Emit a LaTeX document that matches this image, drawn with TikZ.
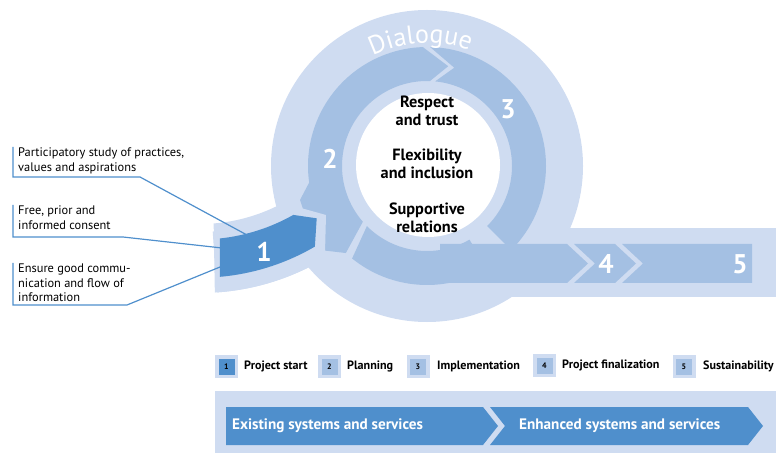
\documentclass[tikz,border=0pt]{standalone}
\usepackage{fontspec}
\setmainfont{PT Sans}
\usetikzlibrary{decorations.text}
\definecolor{lightb}{RGB}{207,220,241}
\definecolor{medb}{RGB}{164,192,227}
\definecolor{darkb}{RGB}{79,143,204}
\begin{document}
\begin{tikzpicture}[x=1pt,y=-1pt,
  lbl/.style={font=\fontsize{12.4}{14.8}\selectfont, anchor=north west, align=left, inner sep=0pt},
  ctr/.style={font=\bfseries\fontsize{16.3}{17.5}\selectfont, align=center, inner sep=0pt},
  num/.style={font=\bfseries\fontsize{27}{27}\selectfont, text=white, inner sep=0pt},
  conn/.style={draw=darkb, line width=1.2pt},
  leg/.style={font=\bfseries\fontsize{12.1}{13}\selectfont, anchor=west, inner sep=0pt},
  legsq/.style={fill=lightb, minimum width=23pt, minimum height=23pt, inner sep=0pt},
  legin/.style={minimum width=16pt, minimum height=16pt, inner sep=0pt, font=\bfseries\fontsize{8}{8}\selectfont},
  ban/.style={font=\bfseries\fontsize{15.2}{16}\selectfont, text=white, anchor=west, inner sep=0pt}]
\useasboundingbox (0,0) rectangle (776,454);

% ---- light background shapes
\fill[lightb] (427,166) circle[radius=156];
\begin{scope}[shift={(200,50)}]
  \fill[lightb] (86.5:243) arc[start angle=86.5,end angle=50,radius=243] -- (50:174) arc[start angle=50,end angle=85.5,radius=174] -- cycle;
\end{scope}
\fill[lightb] (500,228) rectangle (776,297);

% ---- medium ring segments
\begin{scope}[shift={(427,166)}]
  % segment 2 (flares out towards item 1)
  \fill[medb] (272:85) arc[start angle=272,end angle=139,radius=85] -- (133:119) -- (-107,84) -- (-122,49) -- (-127,34) -- (172:119) arc[start angle=172,end angle=268,radius=119] -- (282:102) -- cycle;
  % segment 3
  \fill[medb] (271.5:119) arc[start angle=271.5,end angle=405,radius=119] -- (405:85) arc[start angle=405,end angle=275.5,radius=85] -- (285.5:102) -- cycle;
  % bottom piece
  \fill[medb] (129:119) arc[start angle=129,end angle=60,radius=119] -- (60:85) arc[start angle=60,end angle=135,radius=85] -- cycle;
\end{scope}
% band arrows
\fill[medb] (440,244) -- (567,244) -- (588,263.5) -- (567,283) -- (440,283) -- cycle;
\fill[medb] (574,244) -- (615,244) -- (636,263.5) -- (615,283) -- (574,283) -- (595,263.5) -- cycle;
\fill[medb] (622,244) -- (752,244) -- (752,283) -- (622,283) -- (643,263.5) -- cycle;

% ---- item 1 with light margin
\begin{scope}[shift={(200,50)}]
  \fill[lightb] (86:182) arc[start angle=86,end angle=59,radius=182] -- (126,165) -- (125,203) -- (60:243) arc[start angle=60,end angle=86,radius=243] -- cycle;
  \fill[darkb] (84:189.5) arc[start angle=84,end angle=60.5,radius=189.5] -- (116.7,168.3) -- (59.7:227.7) arc[start angle=59.7,end angle=85,radius=227.7] -- cycle;
\end{scope}

% ---- white centre
\fill[white] (428,165) circle[radius=72];

% ---- Dialogue
\path[decorate, decoration={text along path, text align=center, text color=white,
  text={|\fontsize{26}{26}\selectfont|Dialogue}}]
  (427,166) ++(236:123) arc[start angle=236,end angle=298,radius=123];

% ---- numbers
\node[num] (n1) at (264,252) {1};
\node[num] (n2) at (330,159) {2};
\node[num] (n3) at (508,109) {3};
\node[num] (n4) at (606,264) {4};
\node[num] (n5) at (740,264) {5};

% ---- centre texts
\node[ctr] (c1) at (427,111) {Respect\\and trust};
\node[ctr] (c2) at (427,164) {Flexibility\\and inclusion};
\node[ctr] (c3) at (427,218) {Supportive\\relations};

% ---- left labels and connectors
\node[lbl] (l1) at (18,147.5) {Participatory study of practices,\\values and aspirations};
\node[lbl] (l2) at (18,205.5) {Free, prior and\\informed consent};
\node[lbl] (l3) at (18,263.5) {Ensure good commu-\\nication and flow of\\information};
\coordinate (e1) at (247,235);
\coordinate (e2) at (222,248);
\coordinate (e3) at (220,267);
\draw[conn] (13,147) -- (13,177) -- (140,177) -- (e1);
\draw[conn] (13,205) -- (13,237) -- (123,237) -- (e2);
\draw[conn] (13,263) -- (13,305) -- (127,305) -- (e3);

% ---- legend
\node[legsq] (s1) at (226.5,366.5) {};
\node[legin, fill=darkb] at (s1) {1};
\node[leg] (t1) at (244,366) {Project start};
\node[legsq] (s2) at (329.5,366.5) {};
\node[legin, fill=medb] at (s2) {2};
\node[leg] (t2) at (347,366) {Planning};
\node[legsq] (s3) at (418,366.5) {};
\node[legin, fill=medb] at (s3) {3};
\node[leg] (t3) at (437,366) {Implementation};
\node[legsq] (s4) at (544.5,365.5) {};
\node[legin, fill=medb] at (s4) {4};
\node[leg] (t4) at (562,365) {Project finalization};
\node[legsq] (s5) at (684,366.5) {};
\node[legin, fill=medb] at (s5) {5};
\node[leg] (t5) at (703,366) {Sustainability};

% ---- banner
\fill[lightb] (215,391) rectangle (776,453);
\fill[darkb] (226,407) -- (483,407) -- (498,426) -- (483,445) -- (226,445) -- cycle;
\fill[darkb] (490,407) -- (748,407) -- (763,426) -- (748,445) -- (490,445) -- (505,426) -- cycle;
\node[ban] (b1) at (232,426) {Existing systems and services};
\node[ban] (b2) at (519,426) {Enhanced systems and services};
\end{tikzpicture}
\end{document}
